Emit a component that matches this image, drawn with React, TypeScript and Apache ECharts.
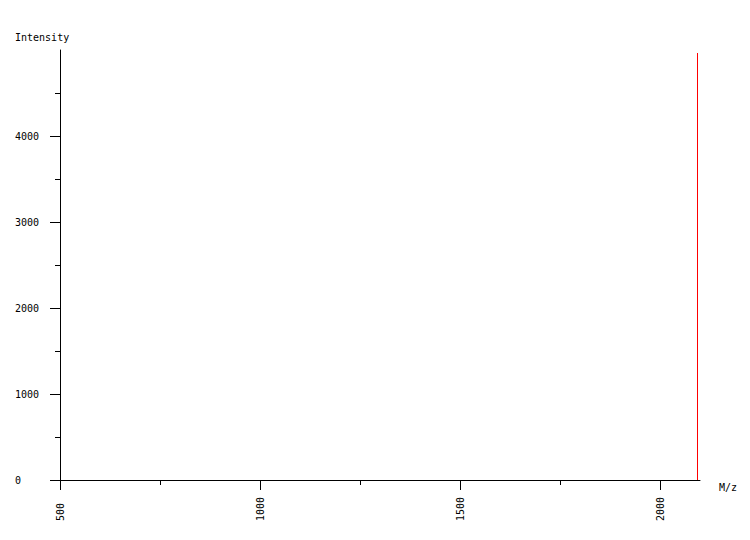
import { useEffect, useRef } from 'react'
import * as echarts from 'echarts'

// 谱峰: m/z 与强度
const peakMz = [2093.75]
const peakIntensity = [4965]

const xMajorTicks = [500, 1000, 1500, 2000]
const xMinorTicks = [750, 1250, 1750]
const yMajorTicks = [0, 1000, 2000, 3000, 4000]
const yMinorTicks = [500, 1500, 2500, 3500, 4500]

const FONT = 'DejaVu Sans Mono'

export default function App() {
  const ref = useRef<HTMLDivElement>(null)

  useEffect(() => {
    if (!ref.current) return
    document.body.style.margin = '0'

    const chart = echarts.init(ref.current, undefined, { renderer: 'svg' })

    // 每个峰画成一根竖线
    const sticks: (number[] | string)[] = []
    peakMz.forEach((mz, i) => {
      sticks.push([mz, 0], [mz, peakIntensity[i]], '-')
    })

    const axisLineStyle = { color: '#000', width: 1 }
    const labelStyle = {
      color: '#000',
      fontFamily: FONT,
      fontSize: 10,
      formatter: (v: number) => String(v),
    }

    chart.setOption({
      animation: false,
      textStyle: { fontFamily: FONT },
      grid: { left: 60, right: 50, top: 50, bottom: 60 },
      xAxis: [
        {
          type: 'value',
          min: 500,
          max: 2100,
          axisLine: { show: true, lineStyle: axisLineStyle },
          axisTick: { show: true, length: 10, customValues: xMajorTicks, lineStyle: axisLineStyle },
          axisLabel: { ...labelStyle, customValues: xMajorTicks, rotate: 90, align: 'left', margin: 41 },
          splitLine: { show: false },
        },
        {
          type: 'value',
          min: 500,
          max: 2100,
          position: 'bottom',
          axisLine: { show: false },
          axisTick: { show: true, length: 5, customValues: xMinorTicks, lineStyle: axisLineStyle },
          axisLabel: { show: false },
          splitLine: { show: false },
        },
      ],
      yAxis: [
        {
          type: 'value',
          min: 0,
          max: 5000,
          axisLine: { show: true, lineStyle: axisLineStyle },
          axisTick: { show: true, length: 10, customValues: yMajorTicks, lineStyle: axisLineStyle },
          axisLabel: { ...labelStyle, customValues: yMajorTicks, align: 'left', margin: 45 },
          splitLine: { show: false },
        },
        {
          type: 'value',
          min: 0,
          max: 5000,
          position: 'left',
          axisLine: { show: false },
          axisTick: { show: true, length: 5, customValues: yMinorTicks, lineStyle: axisLineStyle },
          axisLabel: { show: false },
          splitLine: { show: false },
        },
      ],
      graphic: [
        {
          type: 'text',
          left: 15,
          top: 32,
          style: { text: 'Intensity', fill: '#000', font: `10px "${FONT}"` },
        },
        {
          type: 'text',
          left: 719,
          top: 482,
          style: { text: 'M/z', fill: '#000', font: `10px "${FONT}"` },
        },
      ],
      series: [
        {
          type: 'line',
          xAxisIndex: 0,
          yAxisIndex: 0,
          data: sticks,
          showSymbol: false,
          connectNulls: false,
          lineStyle: { color: '#ff0000', width: 1 },
          silent: true,
        },
      ],
    })

    return () => chart.dispose()
  }, [])

  return <div ref={ref} style={{ width: 750, height: 540 }} />
}
